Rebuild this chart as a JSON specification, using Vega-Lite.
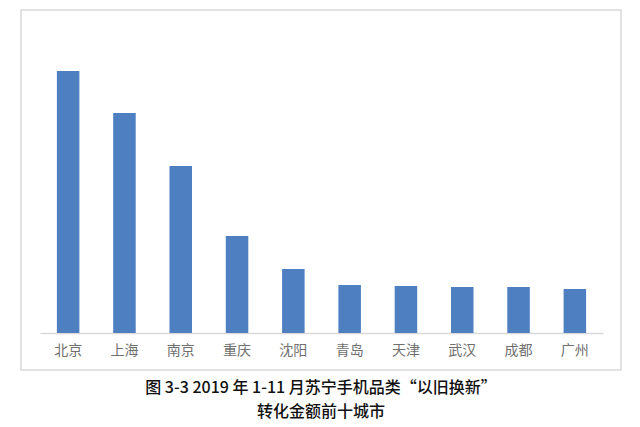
{
  "$schema": "https://vega.github.io/schema/vega-lite/v6.json",
  "autosize": "none",
  "width": 600,
  "height": 360,
  "padding": {"left": 21, "top": 10, "right": 19, "bottom": 57},
  "background": "white",
  "title": {
    "text": ["图 3-3 2019 年 1-11 月苏宁手机品类“以旧换新”", "转化金额前十城市"],
    "orient": "bottom",
    "anchor": "middle",
    "font": "Noto Sans CJK SC",
    "fontSize": 16,
    "fontWeight": 500,
    "color": "#111111",
    "lineHeight": 24,
    "offset": 10
  },
  "config": {
    "view": {"stroke": "#d9d9d9", "strokeWidth": 1.5}
  },
  "data": {
    "values": [
      {"city": "北京", "value": 262},
      {"city": "上海", "value": 220},
      {"city": "南京", "value": 167},
      {"city": "重庆", "value": 97},
      {"city": "沈阳", "value": 64},
      {"city": "青岛", "value": 48},
      {"city": "天津", "value": 47},
      {"city": "武汉", "value": 46},
      {"city": "成都", "value": 46},
      {"city": "广州", "value": 44}
    ]
  },
  "mark": {"type": "bar", "color": "#4e7fc1"},
  "encoding": {
    "x": {
      "field": "city",
      "type": "nominal",
      "sort": null,
      "scale": {"range": [19, 582], "paddingInner": 0.6, "paddingOuter": 0.3},
      "axis": {
        "title": null,
        "labelAngle": 0,
        "ticks": false,
        "offset": -37,
        "domainColor": "#d9d9d9",
        "domainWidth": 1.5,
        "labelFont": "Noto Sans CJK SC",
        "labelFontSize": 14,
        "labelColor": "#6f6f6f",
        "labelPadding": 10
      }
    },
    "y": {
      "field": "value",
      "type": "quantitative",
      "scale": {"domain": [0, 323], "range": [323, 0]},
      "axis": null
    }
  }
}
